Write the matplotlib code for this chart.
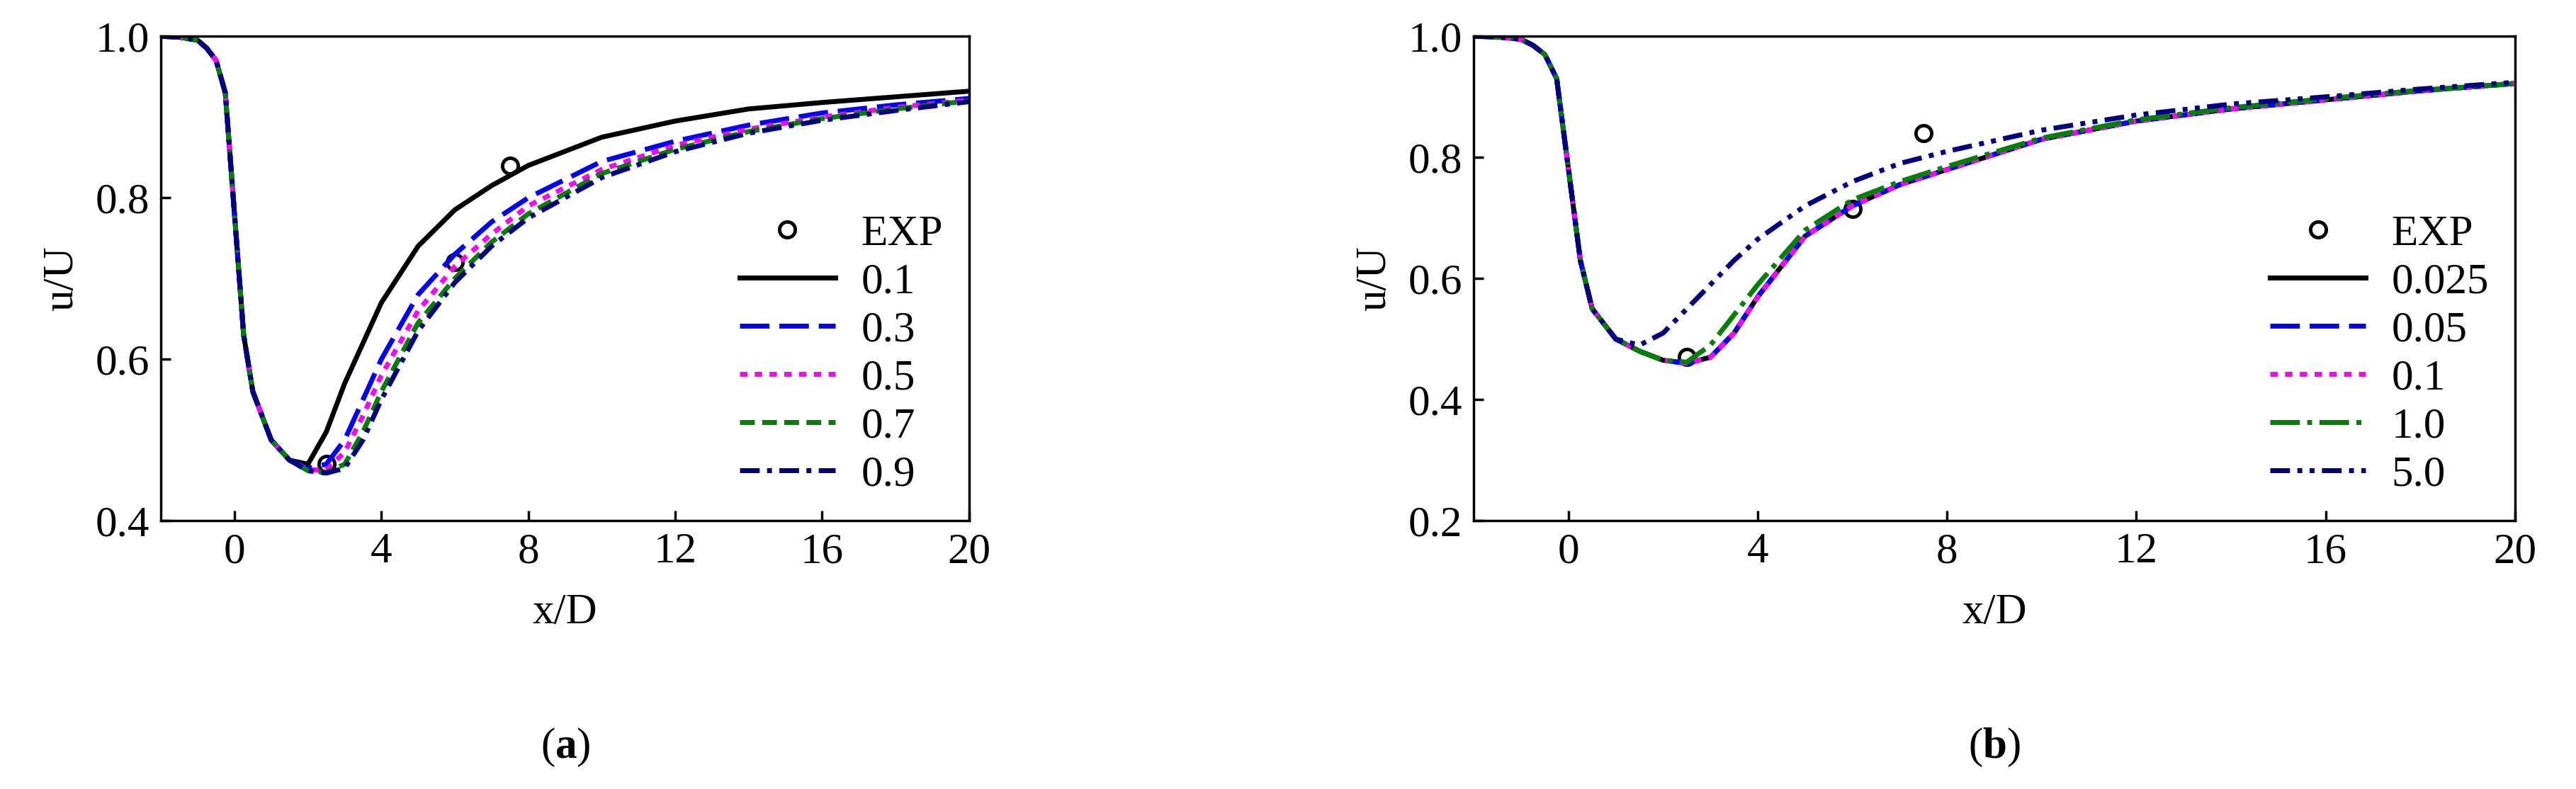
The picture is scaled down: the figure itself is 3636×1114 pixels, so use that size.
import matplotlib
matplotlib.use("Agg")
import matplotlib.pyplot as plt

plt.rcParams['font.family'] = ['Liberation Serif', 'DejaVu Serif']
plt.rcParams['mathtext.fontset'] = 'custom'
plt.rcParams['mathtext.bf'] = 'Liberation Serif:bold'

# ---- data ----
x_a = [-2, -1.5, -1, -0.75, -0.5, -0.25, 0, 0.25, 0.5, 1, 1.5, 2, 2.5, 3, 3.5, 4, 5, 6, 7, 8, 10, 12, 14, 16, 18, 20]
drop = [1.0, 0.999, 0.995, 0.985, 0.97, 0.93, 0.78, 0.63, 0.56, 0.50, 0.475]
u_01 = drop + [0.47, 0.51, 0.57, 0.62, 0.67, 0.74, 0.785, 0.815, 0.84, 0.875, 0.895, 0.91, 0.918, 0.925, 0.932]
u_03 = drop + [0.465, 0.47, 0.50, 0.55, 0.60, 0.68, 0.73, 0.77, 0.80, 0.845, 0.87, 0.89, 0.905, 0.915, 0.923]
u_05 = drop + [0.463, 0.463, 0.485, 0.53, 0.58, 0.66, 0.715, 0.755, 0.79, 0.835, 0.865, 0.885, 0.90, 0.912, 0.921]
u_07 = drop + [0.462, 0.46, 0.47, 0.51, 0.56, 0.645, 0.70, 0.745, 0.78, 0.83, 0.86, 0.882, 0.898, 0.91, 0.92]
u_09 = drop + [0.462, 0.459, 0.465, 0.50, 0.55, 0.635, 0.695, 0.74, 0.775, 0.825, 0.857, 0.88, 0.896, 0.908, 0.919]
exp_x = [2.5, 6.0, 7.5]
exp_a = [0.47, 0.72, 0.84]

x_b = x_a
drop_b = [1.0, 0.999, 0.995, 0.985, 0.97, 0.93, 0.78, 0.63, 0.55, 0.50]
u_0025 = drop_b + [0.48, 0.465, 0.46, 0.47, 0.51, 0.57, 0.67, 0.72, 0.755, 0.78, 0.83, 0.86, 0.88, 0.895, 0.91, 0.922]
u_005 = u_0025
u_010 = u_0025
u_10 = drop_b + [0.48, 0.465, 0.462, 0.49, 0.54, 0.59, 0.68, 0.73, 0.76, 0.785, 0.832, 0.862, 0.882, 0.897, 0.911, 0.922]
u_50 = drop_b + [0.49, 0.51, 0.55, 0.59, 0.63, 0.665, 0.72, 0.76, 0.79, 0.81, 0.845, 0.87, 0.888, 0.90, 0.913, 0.924]
exp_b = [0.47, 0.715, 0.84]

labels_a = ['0.1', '0.3', '0.5', '0.7', '0.9']
labels_b = ['0.025', '0.05', '0.1', '1.0', '5.0']

colors = ['black', 'blue', 'magenta', 'green', 'navy']
styles_a = ['-', (0, (6, 2)), (0, (1.5, 1.5)), (0, (3, 1.5)), (0, (4, 1.5, 1, 1.5))]
styles_b = ['-', (0, (6, 2)), (0, (1.5, 1.5)), (0, (6, 1.5, 1, 1.5)), (0, (4, 1.5, 1, 1.5, 1, 1.5))]

fs = 44
fig = plt.figure(figsize=(36.37, 11.14), dpi=100)
ax_a = fig.add_axes([0.0625, 0.34, 0.3135, 0.614])
ax_b = fig.add_axes([0.572, 0.34, 0.404, 0.614])


def draw(ax, x, series, labels, styles, exp_y, ylim, yticks):
    ax.plot(exp_x, exp_y, 'o', ms=16, mfc='none', mec='black', mew=3.5, label='EXP')
    for y, lab, c, ls in zip(series, labels, colors, styles):
        ax.plot(x, y, color=c, ls=ls, lw=5, label=lab)
    ax.set_xlim(-2, 20)
    ax.set_ylim(*ylim)
    ax.set_xticks([0, 4, 8, 12, 16, 20])
    ax.set_yticks(yticks)
    ax.set_yticklabels([f'{t:.1f}' for t in yticks])
    ax.tick_params(direction='in', labelsize=fs, width=2.5, length=10, pad=12)
    for s in ax.spines.values():
        s.set_linewidth(2.5)
    ax.set_xlabel('x/D', fontsize=fs, labelpad=22)
    ax.set_ylabel('u/U', fontsize=fs, labelpad=14)
    ax.legend(loc='lower right', frameon=False, fontsize=fs, handlelength=2.2,
              labelspacing=0.2, handletextpad=0.6, borderaxespad=0.2)


draw(ax_a, x_a, [u_01, u_03, u_05, u_07, u_09], labels_a, styles_a, exp_a,
     (0.4, 1.0), [0.4, 0.6, 0.8, 1.0])
draw(ax_b, x_b, [u_0025, u_005, u_010, u_10, u_50], labels_b, styles_b, exp_b,
     (0.2, 1.0), [0.2, 0.4, 0.6, 0.8, 1.0])

fig.text(0.2195, 0.04, r'($\mathbf{a}$)', ha='center', fontsize=fs)
fig.text(0.774, 0.04, r'($\mathbf{b}$)', ha='center', fontsize=fs)

fig.savefig('out.png', dpi=100)
